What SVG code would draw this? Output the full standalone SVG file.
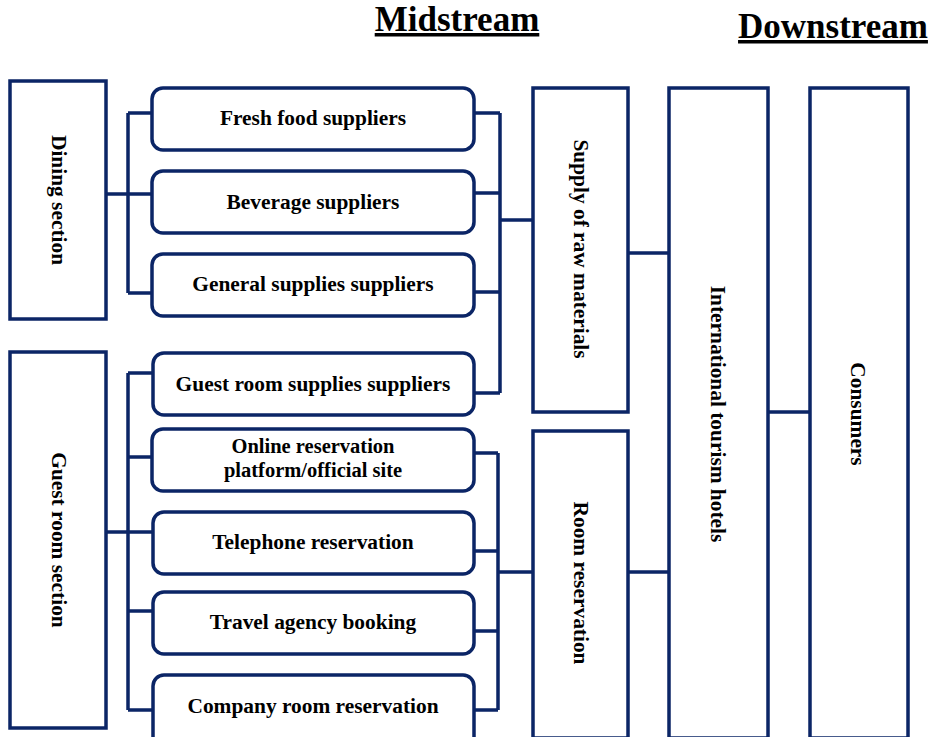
<svg xmlns="http://www.w3.org/2000/svg" width="928" height="737" viewBox="0 0 928 737">
<style>
.box{fill:#fff;stroke:#0b2566;stroke-width:3.5}
.c{fill:none;stroke:#0b2566;stroke-width:3.5}
.t{font-family:"Liberation Serif","Times New Roman",serif;font-weight:bold;font-size:21.4px;fill:#000;text-anchor:middle}
.h{font-family:"Liberation Serif","Times New Roman",serif;font-weight:bold;font-size:35px;fill:#000;text-anchor:middle;text-decoration:underline}
</style>
<rect width="928" height="737" fill="#fff"/>
<text class="h" x="457" y="31">Midstream</text>
<text class="h" x="833" y="38">Downstream</text>
<g id="connectors">
<path class="c" d="M106 194H128M128 113V293M128 113H151M128 194H151M128 293H151"/>
<path class="c" d="M106 532H128M128 373V710M128 373H152M128 457H152M128 532H152M128 611H152M128 710H152"/>
<path class="c" d="M474 113H500M474 193H500M474 292H500M474 393H500M500 113V393M500 220H533"/>
<path class="c" d="M474 453H498M474 551H498M474 631H498M474 710H498M498 453V710M498 572H533"/>
<path class="c" d="M628 253H669M628 572H669M768 412H810"/>
</g>
<g id="dining"><rect class="box" x="10" y="81" width="96" height="238"/><text class="t" transform="translate(52,200) rotate(90)">Dining section</text></g>
<g id="guestroom"><rect class="box" x="10" y="352" width="96" height="376"/><text class="t" transform="translate(52,540) rotate(90)">Guest room section</text></g>
<g id="fresh"><rect class="box" x="152" y="88" width="322" height="62" rx="11"/><text class="t" x="313" y="125">Fresh food suppliers</text></g>
<g id="beverage"><rect class="box" x="152" y="171" width="322" height="62" rx="11"/><text class="t" x="313" y="209">Beverage suppliers</text></g>
<g id="general"><rect class="box" x="152" y="254" width="322" height="62" rx="11"/><text class="t" x="313" y="291">General supplies suppliers</text></g>
<g id="guestsupplies"><rect class="box" x="153" y="353" width="321" height="62" rx="11"/><text class="t" x="313" y="391">Guest room supplies suppliers</text></g>
<g id="online"><rect class="box" x="152" y="429" width="322" height="62" rx="11"/><text class="t" x="313" y="453" style="font-size:20.5px">Online reservation</text><text class="t" x="313" y="477" style="font-size:20.5px">platform/official site</text></g>
<g id="telephone"><rect class="box" x="153" y="512" width="321" height="62" rx="11"/><text class="t" x="313" y="549">Telephone reservation</text></g>
<g id="travel"><rect class="box" x="153" y="592" width="321" height="62" rx="11"/><text class="t" x="313" y="629">Travel agency booking</text></g>
<g id="company"><rect class="box" x="153" y="675" width="321" height="80" rx="11"/><text class="t" x="313" y="713">Company room reservation</text></g>
<g id="supply"><rect class="box" x="533" y="88" width="95" height="324"/><text class="t" transform="translate(574,249) rotate(90)">Supply of raw materials</text></g>
<g id="room"><rect class="box" x="533" y="431" width="95" height="307"/><text class="t" transform="translate(574,583) rotate(90)">Room reservation</text></g>
<g id="hotels"><rect class="box" x="669" y="88" width="99" height="650"/><text class="t" transform="translate(711,414) rotate(90)">International tourism hotels</text></g>
<g id="consumers"><rect class="box" x="810" y="88" width="98" height="650"/><text class="t" transform="translate(851,414) rotate(90)">Consumers</text></g>
</svg>
